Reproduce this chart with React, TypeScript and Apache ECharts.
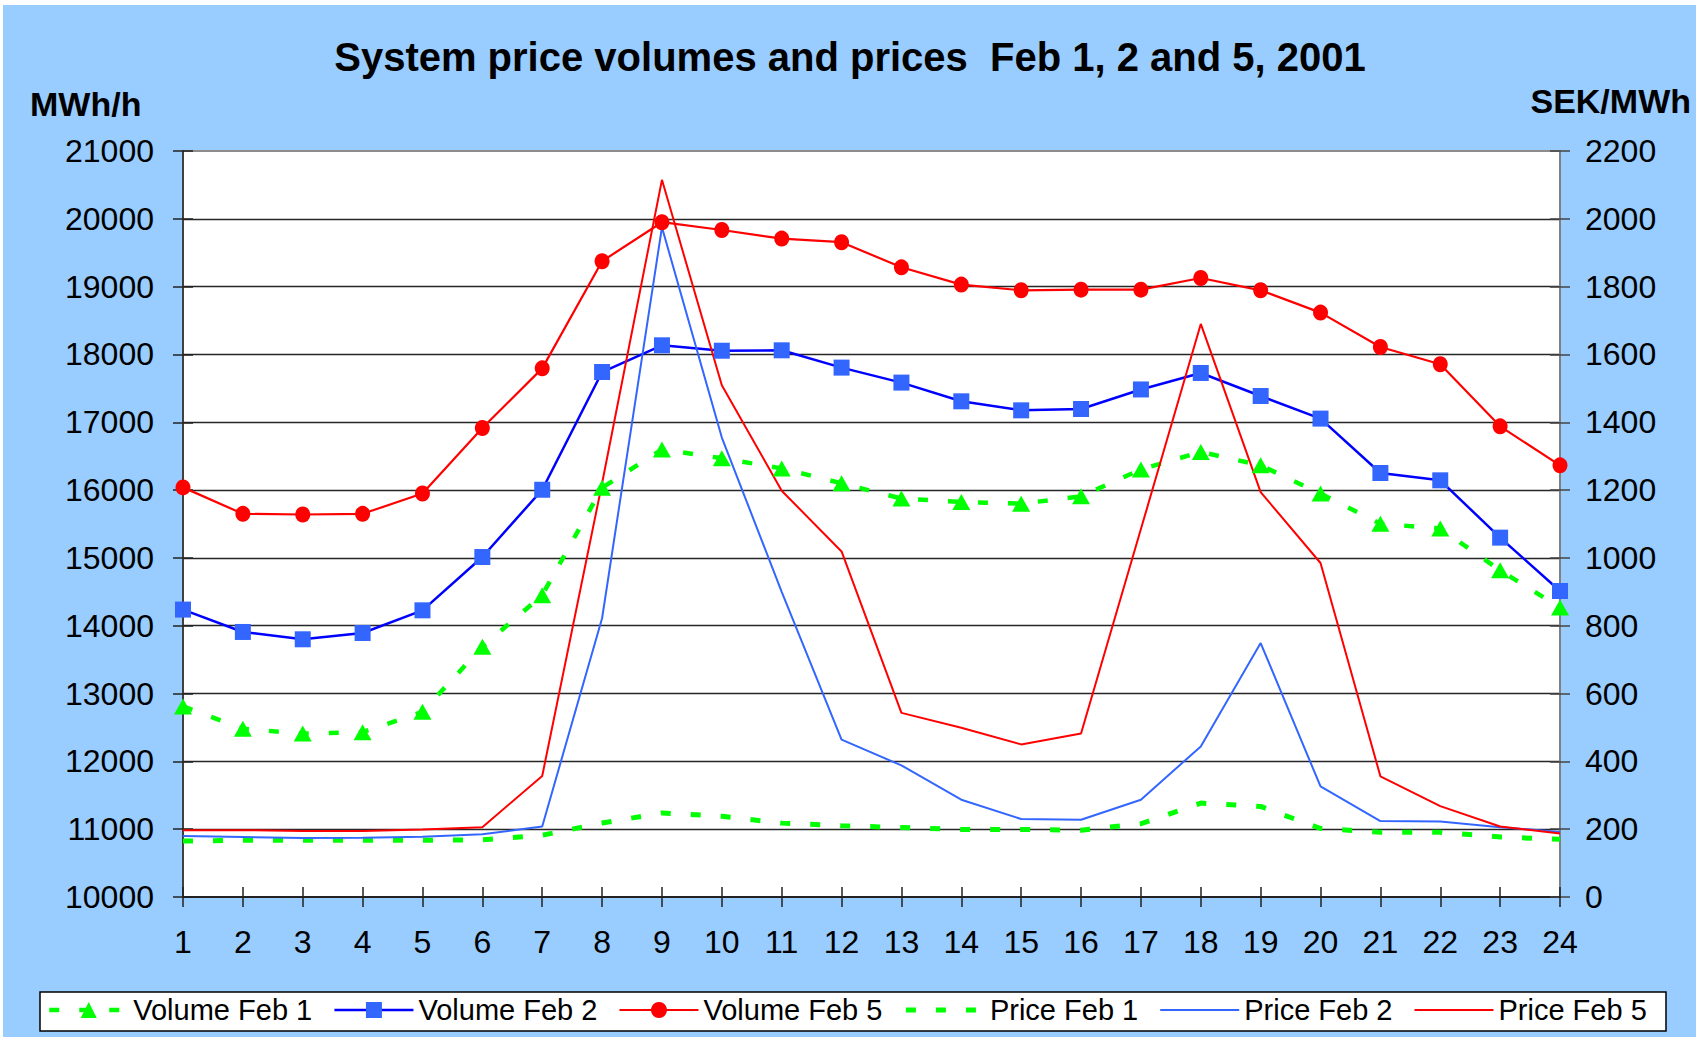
import React, { useEffect, useRef } from "react";
import * as echarts from "echarts";

const hours = ["1","2","3","4","5","6","7","8","9","10","11","12","13","14","15","16","17","18","19","20","21","22","23","24"];

const volumeFeb1 = [12810, 12480, 12410, 12430, 12730, 13690, 14450, 16035, 16600, 16470, 16320, 16100, 15875, 15825, 15800, 15908, 16305, 16562, 16365, 15948, 15505, 15432, 14817, 14267];
const volumeFeb2 = [14238, 13908, 13800, 13893, 14227, 15013, 16005, 17741, 18135, 18055, 18061, 17806, 17585, 17309, 17176, 17196, 17484, 17727, 17387, 17054, 16252, 16144, 15299, 14512];
const volumeFeb5 = [16040, 15650, 15640, 15650, 15950, 16915, 17795, 19375, 19950, 19835, 19708, 19655, 19285, 19030, 18946, 18955, 18955, 19127, 18946, 18617, 18110, 17855, 16940, 16365];
const priceFeb1 = [165, 167, 167, 167, 167, 169, 182, 218, 248, 238, 218, 210, 205, 199, 199, 197, 216, 277, 267, 202, 191, 191, 177, 170];
const priceFeb2 = [180, 177, 174, 175, 178, 185, 208, 822, 1975, 1355, 900, 464, 388, 287, 230, 228, 287, 444, 749, 326, 224, 223, 206, 192];
const priceFeb5 = [197, 197, 195, 195, 199, 206, 357, 1220, 2115, 1509, 1198, 1019, 543, 499, 450, 482, 1085, 1690, 1194, 985, 356, 268, 208, 187];

const titleText = "System price volumes and prices  Feb 1, 2 and 5, 2001";
const leftAxisName = "MWh/h";
const rightAxisName = "SEK/MWh";

const FONT = "'Liberation Sans', Arial, Helvetica, sans-serif";

export default function App() {
  const ref = useRef<HTMLDivElement>(null);

  useEffect(() => {
    if (!ref.current) return;
    const chart = echarts.init(ref.current, null, { renderer: "svg" });
    const tickStyle = { color: "#222", width: 1.5 };
    const plain = (v: number) => String(v);
    const option: any = {
      animation: false,
      backgroundColor: "#99CCFF",
      grid: {
        left: 180,
        top: 146,
        right: 136,
        bottom: 140,
        show: true,
        backgroundColor: "#ffffff",
        borderColor: "#8c8c8c",
        borderWidth: 2,
      },
      graphic: [
        {
          type: "rect",
          z: 0,
          shape: { x: 37, y: 987, width: 1626, height: 39 },
          style: { fill: "#ffffff", stroke: "#000000", lineWidth: 1.5 },
        },
        {
          type: "text",
          x: 847,
          y: 52,
          style: {
            text: titleText,
            fill: "#000",
            fontSize: 40,
            fontWeight: "bold",
            fontFamily: FONT,
            align: "center",
            verticalAlign: "middle",
            textAlign: "center",
            textVerticalAlign: "middle",
          },
        },
        {
          type: "text",
          x: 27,
          y: 99,
          style: {
            text: leftAxisName,
            fill: "#000",
            fontSize: 34,
            fontWeight: "bold",
            fontFamily: FONT,
            align: "left",
            verticalAlign: "middle",
            textAlign: "left",
            textVerticalAlign: "middle",
          },
        },
        {
          type: "text",
          x: 1688,
          y: 96,
          style: {
            text: rightAxisName,
            fill: "#000",
            fontSize: 34,
            fontWeight: "bold",
            fontFamily: FONT,
            align: "right",
            verticalAlign: "middle",
            textAlign: "right",
            textVerticalAlign: "middle",
          },
        },
      ],
      legend: {
        left: 44,
        top: 990,
        padding: 0,
        itemWidth: 79,
        itemHeight: 20,
        itemGap: 21,
        selectedMode: false,
        z: 10,
        lineStyle: { width: "inherit" },
        textStyle: { fontSize: 29, color: "#000", fontFamily: FONT, lineHeight: 30 },
        data: ["Volume Feb 1", "Volume Feb 2", "Volume Feb 5", "Price Feb 1", "Price Feb 2", "Price Feb 5"],
      },
      xAxis: [
        {
          type: "category",
          data: hours,
          boundaryGap: false,
          axisLine: { show: true, lineStyle: { color: "#222", width: 2 } },
          axisTick: { show: true, inside: false, length: 10, lineStyle: tickStyle },
          axisLabel: { interval: 0, margin: 29, fontSize: 32, color: "#000", fontFamily: FONT },
          splitLine: { show: false },
        },
        {
          type: "category",
          data: hours,
          boundaryGap: false,
          position: "bottom",
          axisLine: { show: false },
          axisTick: { show: true, inside: true, length: 10, lineStyle: tickStyle },
          axisLabel: { show: false },
          splitLine: { show: false },
        },
      ],
      yAxis: [
        {
          type: "value",
          min: 10000,
          max: 21000,
          interval: 1000,
          position: "left",
          axisLine: { show: true, lineStyle: { color: "#404040", width: 2 } },
          axisTick: { show: true, inside: false, length: 10, lineStyle: tickStyle },
          axisLabel: { margin: 29, fontSize: 32, color: "#000", fontFamily: FONT, formatter: plain },
          splitLine: { show: true, showMinLine: false, showMaxLine: false, lineStyle: { color: "#262626", width: 1.3 } },
        },
        {
          type: "value",
          min: 0,
          max: 2200,
          interval: 200,
          position: "right",
          axisLine: { show: true, lineStyle: { color: "#808080", width: 2 } },
          axisTick: { show: true, inside: false, length: 10, lineStyle: { color: "#444", width: 1.5 } },
          axisLabel: { margin: 25, fontSize: 32, color: "#000", fontFamily: FONT, formatter: plain },
          splitLine: { show: false },
        },
        {
          type: "value",
          min: 10000,
          max: 21000,
          interval: 1000,
          position: "left",
          axisLine: { show: false },
          axisTick: { show: true, inside: true, length: 10, lineStyle: tickStyle },
          axisLabel: { show: false },
          splitLine: { show: false },
        },
        {
          type: "value",
          min: 0,
          max: 2200,
          interval: 200,
          position: "right",
          axisLine: { show: false },
          axisTick: { show: true, inside: true, length: 10, lineStyle: { color: "#444", width: 1.5 } },
          axisLabel: { show: false },
          splitLine: { show: false },
        },
      ],
      series: [
        {
          name: "Volume Feb 1",
          type: "line",
          yAxisIndex: 0,
          data: volumeFeb1,
          symbol: "triangle",
          symbolSize: [18, 16],
          itemStyle: { color: "#00FF00" },
          lineStyle: { color: "#00FF00", width: 4.5, type: [10, 20] },
        },
        {
          name: "Volume Feb 2",
          type: "line",
          yAxisIndex: 0,
          data: volumeFeb2,
          symbol: "rect",
          symbolSize: 16,
          itemStyle: { color: "#3366FF" },
          lineStyle: { color: "#0000FF", width: 2.5 },
        },
        {
          name: "Volume Feb 5",
          type: "line",
          yAxisIndex: 0,
          data: volumeFeb5,
          symbol: "circle",
          symbolSize: [15, 16],
          itemStyle: { color: "#FF0000" },
          lineStyle: { color: "#FF0000", width: 2.2 },
        },
        {
          name: "Price Feb 1",
          type: "line",
          yAxisIndex: 1,
          data: priceFeb1,
          symbol: "none",
          itemStyle: { color: "rgba(0,0,0,0)" },
          lineStyle: { color: "#00FF00", width: 5, type: [10, 20] },
        },
        {
          name: "Price Feb 2",
          type: "line",
          yAxisIndex: 1,
          data: priceFeb2,
          symbol: "none",
          itemStyle: { color: "rgba(0,0,0,0)" },
          lineStyle: { color: "#3366FF", width: 2 },
        },
        {
          name: "Price Feb 5",
          type: "line",
          yAxisIndex: 1,
          data: priceFeb5,
          symbol: "none",
          itemStyle: { color: "rgba(0,0,0,0)" },
          lineStyle: { color: "#FF0000", width: 2 },
        },
      ],
    };
    chart.setOption(option);
    return () => {
      chart.dispose();
    };
  }, []);

  return (
    <div style={{ position: "fixed", left: 0, top: 0, width: 1696, height: 1037, background: "#ffffff" }}>
      <div ref={ref} style={{ position: "absolute", left: 3, top: 5, width: 1693, height: 1032 }} />
    </div>
  );
}
